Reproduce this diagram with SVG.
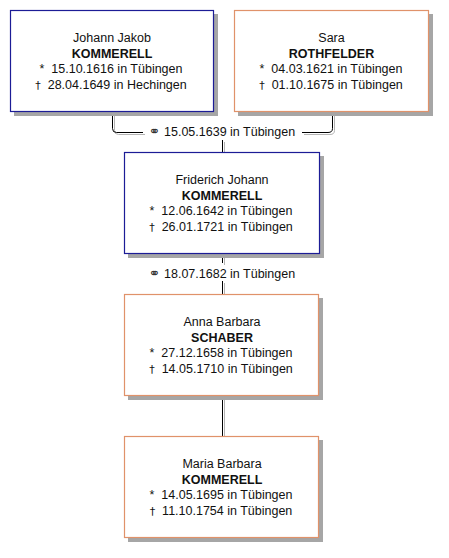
<svg xmlns="http://www.w3.org/2000/svg" width="449" height="558" viewBox="0 0 449 558">
<style>
text{font-family:"Liberation Sans",Arial,sans-serif;font-size:12.5px;fill:#111;text-anchor:middle}
.b{font-weight:bold}
.sh{fill:#a6a6a6}
.m{fill:#fff;stroke:#1c1c96;stroke-width:1.2}
.f{fill:#fff;stroke:#e0926a;stroke-width:1.2}
.ln{fill:none;stroke:#000;stroke-width:1}
.lg{fill:none;stroke:#b4b4b4;stroke-width:1}
.sym{font-family:"DejaVu Sans",sans-serif;font-size:14px;fill:#333}
.dg{font-family:"DejaVu Sans",sans-serif;font-size:11px}
</style>
<rect width="449" height="558" fill="#fff"/>
<g id="connectors">
<g transform="translate(2,2)">
<path class="lg" d="M112.5,112 V128.5 Q112.5,132.5 116.5,132.5 H143 M302,132.5 H328 Q332.5,132.5 332.5,128.5 V112 M222.5,140 V152 M222.5,254 V263 M222.5,281 V294 M222.5,396 V436"/>
</g>
<path class="ln" d="M112.5,112 V128.5 Q112.5,132.5 116.5,132.5 H143 M302,132.5 H328 Q332.5,132.5 332.5,128.5 V112 M222.5,140 V152 M222.5,254 V263 M222.5,281 V294 M222.5,396 V436"/>
<text x="222" y="136"><tspan class="sym">⚭</tspan>  15.05.1639 in Tübingen</text>
<text x="222" y="277.5"><tspan class="sym">⚭</tspan>  18.07.1682 in Tübingen</text>
</g>
<g id="p1">
<rect class="sh" x="14" y="14" width="204" height="102"/>
<rect class="m" x="10.5" y="10.5" width="203" height="101"/>
<text x="112" y="42">Johann Jakob</text>
<text x="112" y="57.5" class="b">KOMMERELL</text>
<text x="111" y="73" xml:space="preserve">*  15.10.1616 in Tübingen</text>
<text x="111" y="88.5" xml:space="preserve"><tspan class="dg">†</tspan>  28.04.1649 in Hechingen</text>
</g>
<g id="p2">
<rect class="sh" x="238" y="14" width="195" height="102"/>
<rect class="f" x="234.5" y="10.5" width="194" height="101"/>
<text x="331.5" y="42">Sara</text>
<text x="331.5" y="57.5" class="b">ROTHFELDER</text>
<text x="331" y="73" xml:space="preserve">*  04.03.1621 in Tübingen</text>
<text x="331" y="88.5" xml:space="preserve"><tspan class="dg">†</tspan>  01.10.1675 in Tübingen</text>
</g>
<g id="p3">
<rect class="sh" x="128" y="156" width="196" height="102"/>
<rect class="m" x="124.5" y="152.5" width="195" height="101"/>
<text x="222" y="184">Friderich Johann</text>
<text x="222" y="199.5" class="b">KOMMERELL</text>
<text x="221" y="215" xml:space="preserve">*  12.06.1642 in Tübingen</text>
<text x="221" y="230.5" xml:space="preserve"><tspan class="dg">†</tspan>  26.01.1721 in Tübingen</text>
</g>
<g id="p4">
<rect class="sh" x="128" y="298" width="195" height="102"/>
<rect class="f" x="124.5" y="294.5" width="194" height="101"/>
<text x="222" y="326">Anna Barbara</text>
<text x="222" y="341.5" class="b">SCHABER</text>
<text x="221" y="357" xml:space="preserve">*  27.12.1658 in Tübingen</text>
<text x="221" y="372.5" xml:space="preserve"><tspan class="dg">†</tspan>  14.05.1710 in Tübingen</text>
</g>
<g id="p5">
<rect class="sh" x="128" y="440" width="195" height="102"/>
<rect class="f" x="124.5" y="436.5" width="194" height="101"/>
<text x="222" y="468">Maria Barbara</text>
<text x="222" y="483.5" class="b">KOMMERELL</text>
<text x="221" y="499" xml:space="preserve">*  14.05.1695 in Tübingen</text>
<text x="221" y="514.5" xml:space="preserve"><tspan class="dg">†</tspan>  11.10.1754 in Tübingen</text>
</g>
</svg>
